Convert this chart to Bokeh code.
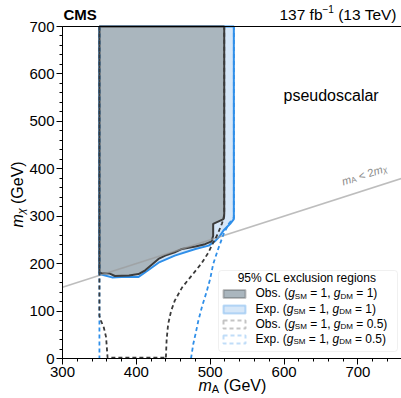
import math
from bokeh.plotting import figure
from bokeh.models import Range1d, Label, BoxAnnotation, LinearAxis, FixedTicker, SingleIntervalTicker
from bokeh.embed import file_html
from bokeh.resources import INLINE

# ---------------- data (GeV) ----------------
obs1_x = [350, 350, 353, 364, 371, 390, 403, 412, 430, 439, 452, 462, 480, 493, 502, 504, 504, 518, 519, 519]
obs1_y = [700, 181, 180, 179, 174, 175, 178, 186, 210, 217, 224, 231, 236, 241, 247, 259, 284, 294, 305, 700]

exp1_x = [350, 350, 367, 380, 403, 415, 430, 452, 480, 498, 507, 513, 518, 527, 532, 532]
exp1_y = [700, 178, 171, 172, 172, 185, 202, 217, 231, 238, 248, 258, 270, 284, 294, 700]

obs05_left_x = [350, 350, 352, 356, 359, 361, 440]
obs05_left_y = [700, 90, 80, 65, 45, 2, 2]
obs05_right_x = [440, 441, 443, 447, 452, 462, 475, 488, 497, 503, 510, 516, 519, 519]
obs05_right_y = [2, 40, 72, 100, 122, 150, 175, 200, 222, 241, 262, 285, 300, 700]

exp05_left_x = [350, 350]
exp05_left_y = [700, 0]
exp05_right_x = [474, 477, 480, 484, 489, 495, 500, 504, 511, 518, 525, 532, 532]
exp05_right_y = [0, 30, 51, 80, 110, 140, 168, 199, 232, 262, 284, 297, 700]

diag_x = [300, 760]
diag_y = [150, 380]

x_ticks = [300, 400, 500, 600, 700]
y_ticks = [0, 100, 200, 300, 400, 500, 600, 700]

# ---------------- layout ----------------
FONT = "Liberation Sans"
W, H = 401, 398
PL, PR, PT, PB = 62, 401, 26, 358          # plotting-area edges in pixels
X0, X1, Y0, Y1 = 300, 759, 0, 700          # plotting-area data limits
kx = (PR - PL) / (X1 - X0)
ky = (PB - PT) / (Y1 - Y0)
xr = Range1d(X0 - PL / kx, X1 + (W - PR) / kx)
yr = Range1d(Y0 - (H - PB) / ky, Y1 + PT / ky)
FIX = -5  # baseline correction for Label rendering (pixels, along text "down")

GREY_FILL = "#aab6be"
OBS_LINE = "#3c3c3c"
EXP_FILL = "#d6e7f8"
EXP_LINE = "#2f8fe9"
DASH_DARK = "#3a3a3a"
DASH = "4 3"

p = figure(width=W, height=H, x_range=xr, y_range=yr, output_backend="svg", toolbar_location=None,
           x_axis_location=None, y_axis_location=None,
           min_border_left=0, min_border_right=0, min_border_top=0, min_border_bottom=0)
p.outline_line_color = None
p.xgrid.visible = False
p.ygrid.visible = False
p.background_fill_color = "white"
p.border_fill_color = "white"


def style_axis(ax):
    ax.major_tick_out = 6
    ax.major_tick_in = 0
    ax.minor_tick_out = 3
    ax.minor_tick_in = 0
    ax.axis_line_color = "black"
    ax.major_tick_line_color = "black"
    ax.minor_tick_line_color = "black"
    ax.major_label_text_font = FONT
    ax.major_label_text_font_size = "15px"
    ax.major_label_text_color = "black"
    ax.major_label_standoff = 2


xaxis = LinearAxis(ticker=SingleIntervalTicker(interval=100, num_minor_ticks=5),
                   fixed_location=Y0, bounds=(X0, X1))
yaxis = LinearAxis(ticker=SingleIntervalTicker(interval=100, num_minor_ticks=5),
                   fixed_location=X0, bounds=(Y0, Y1))
style_axis(xaxis)
style_axis(yaxis)
topaxis = LinearAxis(ticker=FixedTicker(ticks=[]), fixed_location=Y1, bounds=(X0, X1),
                     major_label_text_font_size="0px", axis_line_color="black",
                     major_tick_line_color=None, minor_tick_line_color=None)
p.add_layout(xaxis, "below")
p.add_layout(yaxis, "left")
p.add_layout(topaxis, "above")

# ---------------- glyphs ----------------
p.patch(exp1_x, exp1_y, fill_color=EXP_FILL, line_color=EXP_LINE, line_width=2)
p.patch(obs1_x, obs1_y, fill_color=GREY_FILL, line_color=OBS_LINE, line_width=2)
p.line(diag_x, diag_y, line_color="#999999", line_alpha=0.65, line_width=1.6)
p.line(exp05_left_x, exp05_left_y, line_color=EXP_LINE, line_width=1.8, line_dash=DASH)
p.line(exp05_right_x, exp05_right_y, line_color=EXP_LINE, line_width=1.8, line_dash=DASH)
p.line(obs05_left_x, obs05_left_y, line_color=DASH_DARK, line_width=1.8, line_dash=DASH)
p.line(obs05_right_x, obs05_right_y, line_color=DASH_DARK, line_width=1.8, line_dash=DASH)

# ---------------- rich text helper (pixel coords, y from top) ----------------
CW = {' ': 0.278, '(': 0.333, ')': 0.333, '.': 0.278, ',': 0.278, '=': 0.584, '<': 0.584,
      '−': 0.584, '%': 0.889, 'a': 0.556, 'b': 0.556, 'c': 0.5, 'd': 0.556, 'e': 0.556,
      'f': 0.278, 'g': 0.556, 'i': 0.222, 'l': 0.222, 'm': 0.833, 'n': 0.556, 'o': 0.556,
      'p': 0.556, 'r': 0.333, 's': 0.5, 'u': 0.556, 'x': 0.5, 'A': 0.667, 'C': 0.722,
      'D': 0.722, 'G': 0.778, 'L': 0.556, 'M': 0.833, 'O': 0.778, 'S': 0.667, 'T': 0.611,
      'V': 0.667, 'E': 0.667, 'χ': 0.52}


def tw(s, size):
    return sum(CW.get(c, 0.556) for c in s) * size


def label(text, px, py, size, style="normal", color="black", align="left", angle=0.0):
    px = px + FIX * math.sin(angle)
    py = py + FIX * math.cos(angle)
    p.add_layout(Label(x=px, y=H - py, x_units="screen", y_units="screen", text=text, angle=angle,
                       text_font=FONT, text_font_size=f"{size}px", text_font_style=style,
                       text_color=color, text_baseline="alphabetic", text_align=align))


def rich(pieces, px, py, angle=0.0, color="black"):
    """pieces: (text, size, drop, style); px, py: baseline start in pixels (y down)."""
    ca, sa = math.cos(angle), math.sin(angle)
    adv = 0.0
    for text, size, drop, style in pieces:
        lead = len(text) - len(text.lstrip(' '))
        trail = len(text) - len(text.rstrip(' '))
        adv += lead * 0.278 * size
        core = text.strip(' ')
        x = px + adv * ca + drop * sa
        y = py - adv * sa + drop * ca
        label(core, x, y, size, style, color, "left", angle)
        adv += tw(core, size) + trail * 0.278 * size
    return adv


# header
label("CMS", 63, 19, 15, "bold")
lumi = [("137 fb", 15.5, 0, "normal"), ("−1", 10, -6, "normal"), (" (13 TeV)", 15.5, 0, "normal")]
total = sum(tw(t, s) for t, s, d, st in lumi)
rich(lumi, 398 - total, 19)

# axis titles
rich([("m", 16, 0, "italic"), ("A", 11, 3, "normal"), (" (GeV)", 16, 0, "normal")], 198, 390)
rich([("m", 16, 0, "italic"), ("χ", 11, 3, "italic"), (" (GeV)", 16, 0, "normal")], 22, 227,
     angle=math.pi / 2)

# in-plot texts
label("pseudoscalar", 283, 100, 16)
theta = math.atan(0.5 * ky / kx)
rich([("m", 11, 0, "italic"), ("A", 8, 2, "normal"), (" < 2", 11, 0, "normal"),
      ("m", 11, 0, "italic"), ("χ", 8, 2, "italic")], 343, 186, angle=theta, color="#888888")

# ---------------- legend ----------------
def box(l, r, t, b, **kw):
    p.add_layout(BoxAnnotation(left=l, right=r, bottom=H - b, top=H - t,
                               left_units="screen", right_units="screen", bottom_units="screen",
                               top_units="screen", **kw))


box(218, 397, 270, 351, fill_color="white", fill_alpha=0.85, line_color="#cccccc", line_width=1,
    border_radius=3)
label("95% CL exclusion regions", 306.5, 282, 12, align="center")

rows = [
    ("Obs.", "1", dict(fill_color=GREY_FILL, fill_alpha=1, line_color=OBS_LINE, line_width=2)),
    ("Exp.", "1", dict(fill_color=EXP_FILL, fill_alpha=1, line_color=EXP_LINE, line_width=2)),
    ("Obs.", "0.5", dict(fill_alpha=0, line_color=DASH_DARK, line_width=2, line_dash=DASH)),
    ("Exp.", "0.5", dict(fill_alpha=0, line_color=EXP_LINE, line_width=2, line_dash=DASH)),
]
row_py = [293.5, 309, 324, 339]
for (kind, gdm, sty), cy in zip(rows, row_py):
    box(223, 245, cy - 4, cy + 4, **sty)
    rich([(kind + " (", 12, 0, "normal"), ("g", 12, 0, "italic"), ("SM", 8, 3, "normal"),
          (" = 1, ", 12, 0, "normal"), ("g", 12, 0, "italic"), ("DM", 8, 3, "normal"),
          (" = " + gdm + ")", 12, 0, "normal")], 255, cy + 4)

open("out.html", "w").write(file_html(p, INLINE))
